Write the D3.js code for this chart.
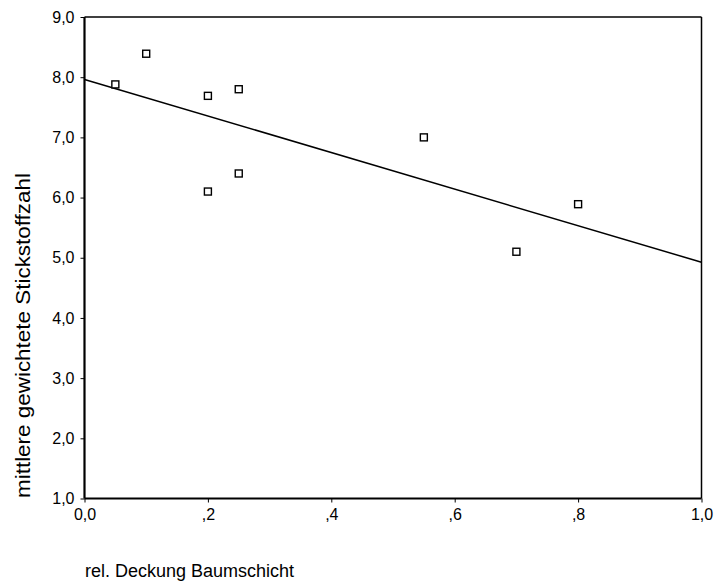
<!DOCTYPE html>
<html><head><meta charset="utf-8">
<script src="https://cdn.jsdelivr.net/npm/d3@7"></script>
<style>body{margin:0;background:#fff}svg{display:block}text{font-family:"Liberation Sans",Arial,sans-serif;fill:#000}</style>
</head><body>
<svg id="c" width="718" height="583"></svg>
<script>
const deckung = [0.05, 0.10, 0.20, 0.25, 0.25, 0.20, 0.55, 0.80, 0.70];
const stickstoff = [7.88, 8.39, 7.69, 7.80, 6.40, 6.10, 7.00, 5.89, 5.10];
const xTicks = [0, 0.2, 0.4, 0.6, 0.8, 1.0];
const xTickLabels = ["0,0", ",2", ",4", ",6", ",8", "1,0"];
const yTicks = [1, 2, 3, 4, 5, 6, 7, 8, 9];
const yTickLabels = ["1,0", "2,0", "3,0", "4,0", "5,0", "6,0", "7,0", "8,0", "9,0"];

const svg = d3.select("#c");
const L = 84.5, R = 701.5, T = 17, B = 498.5;
const x = d3.scaleLinear().domain([0, 1]).range([L, R]);
const y = d3.scaleLinear().domain([1, 9]).range([B, T]);

// frame (top/right)
svg.append("line").attr("x1", L).attr("x2", R).attr("y1", T).attr("y2", T).attr("stroke", "#000").attr("stroke-width", 1.5);
svg.append("line").attr("x1", R).attr("x2", R).attr("y1", T).attr("y2", B).attr("stroke", "#000").attr("stroke-width", 1.5);

const xAxis = svg.append("g").attr("transform", `translate(0,${B})`)
  .call(d3.axisBottom(x).tickValues(xTicks).tickFormat((d, i) => xTickLabels[i]).tickSize(4).tickPadding(6));
const yAxis = svg.append("g").attr("transform", `translate(${L},0)`)
  .call(d3.axisLeft(y).tickValues(yTicks).tickFormat((d, i) => yTickLabels[i]).tickSize(4).tickPadding(6));
[xAxis, yAxis].forEach(g => {
  g.select(".domain").attr("stroke", "#000").attr("stroke-width", 2.2);
  g.selectAll(".tick line").attr("stroke", "#000").attr("stroke-width", 1);
  g.selectAll(".tick text").attr("font-size", 16).attr("font-family", "Liberation Sans, Arial, sans-serif").attr("fill", "#000");
});
xAxis.select(".domain").attr("d", `M${L},0H${R}`);
yAxis.select(".domain").attr("d", `M0,${T}V${B}`);
xAxis.selectAll(".tick text").attr("dy", "0.71em");

// regression line
const mx = d3.mean(deckung), my = d3.mean(stickstoff);
let sxy = 0, sxx = 0;
deckung.forEach((v, i) => { sxy += (v - mx) * (stickstoff[i] - my); sxx += (v - mx) * (v - mx); });
const b = sxy / sxx, a = my - b * mx;
svg.append("line").attr("x1", x(0)).attr("y1", y(a)).attr("x2", x(1)).attr("y2", y(a + b))
  .attr("stroke", "#000").attr("stroke-width", 1.5);

// points
svg.append("g").selectAll("rect").data(deckung).join("rect")
  .attr("x", (d) => x(d) - 3.5).attr("y", (d, i) => y(stickstoff[i]) - 3.5)
  .attr("width", 7).attr("height", 7).attr("fill", "#fff").attr("stroke", "#000").attr("stroke-width", 1.4);

// labels
svg.append("text").attr("transform", "translate(29.5,173) rotate(-90)").attr("text-anchor", "end")
  .attr("font-size", 20).attr("textLength", 325).attr("lengthAdjust", "spacingAndGlyphs")
  .text("mittlere gewichtete Stickstoffzahl");
svg.append("text").attr("x", 85).attr("y", 577).attr("font-size", 18).text("rel. Deckung Baumschicht");
</script>
</body></html>
